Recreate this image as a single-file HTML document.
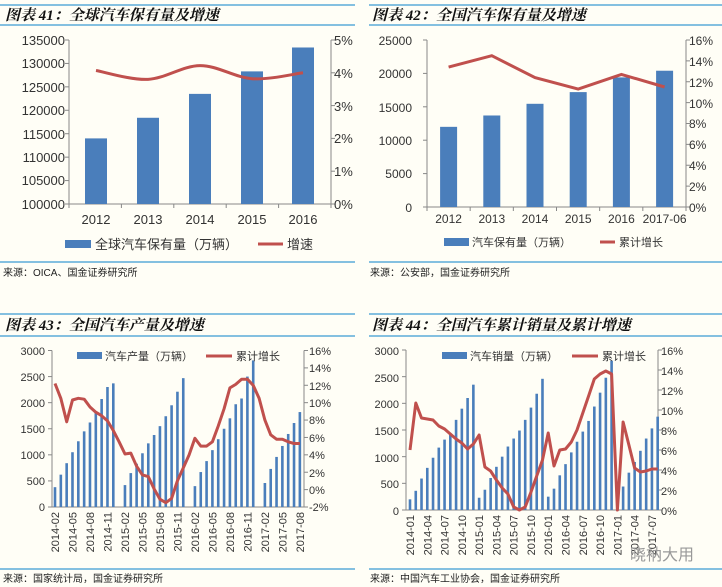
<!DOCTYPE html>
<html><head><meta charset="utf-8"><style>
html,body{margin:0;padding:0;background:#fffef6;}
svg{display:block;font-family:"Liberation Sans","Noto Sans CJK SC",sans-serif;}
.t{font-family:"Liberation Serif","Noto Serif CJK SC",serif;font-weight:bold;font-style:italic;font-size:15px;fill:#111;}
.s{font-size:10px;fill:#222;}
.a{fill:#333;}
</style></head><body>
<svg id="c" width="722" height="587" viewBox="0 0 722 587" xmlns="http://www.w3.org/2000/svg">
<rect width="722" height="587" fill="#fffef6"/>
<g stroke="#3a9ad4" stroke-width="1.3">
<line x1="0" y1="5" x2="355" y2="5"/><line x1="0" y1="25" x2="355" y2="25"/><line x1="0" y1="262" x2="355" y2="262"/>
<line x1="369" y1="5" x2="722" y2="5"/><line x1="369" y1="25" x2="722" y2="25"/><line x1="369" y1="262" x2="722" y2="262"/>
<line x1="0" y1="314" x2="355" y2="314"/><line x1="0" y1="336" x2="355" y2="336"/><line x1="0" y1="569" x2="355" y2="569"/>
<line x1="369" y1="314" x2="722" y2="314"/><line x1="369" y1="336" x2="722" y2="336"/><line x1="369" y1="569" x2="722" y2="569"/>
</g>
<text class="t" x="5" y="20">图表 41：全球汽车保有量及增速</text>
<text class="t" x="372" y="20">图表 42：全国汽车保有量及增速</text>
<text class="t" x="5" y="330">图表 43：全国汽车产量及增速</text>
<text class="t" x="372" y="330">图表 44：全国汽车累计销量及累计增速</text>
<text class="s" x="3" y="276">来源：OICA、国金证券研究所</text>
<text class="s" x="370" y="276">来源：公安部，国金证券研究所</text>
<text class="s" x="3" y="582">来源：国家统计局，国金证券研究所</text>
<text class="s" x="370" y="582">来源：中国汽车工业协会，国金证券研究所</text>
<g id="dyn"></g>

<!-- Panel 1 labels -->
<g class="a" font-size="13" text-anchor="end">
<text x="65" y="45">135000</text><text x="65" y="68">130000</text><text x="65" y="92">125000</text><text x="65" y="115">120000</text><text x="65" y="139">115000</text><text x="65" y="162">110000</text><text x="65" y="185">105000</text><text x="65" y="209">100000</text>
</g>
<g class="a" font-size="13">
<text x="334" y="45">5%</text><text x="334" y="78">4%</text><text x="334" y="111">3%</text><text x="334" y="143">2%</text><text x="334" y="176">1%</text><text x="334" y="209">0%</text>
</g>
<g class="a" font-size="13" text-anchor="middle">
<text x="96" y="224">2012</text><text x="148" y="224">2013</text><text x="200" y="224">2014</text><text x="252" y="224">2015</text><text x="303" y="224">2016</text>
</g>
<rect x="65" y="240" width="26" height="8" fill="#4a7ebb"/>
<text x="95" y="249" font-size="13" class="a">全球汽车保有量（万辆）</text>
<line x1="258" y1="244" x2="283" y2="244" stroke="#c0504d" stroke-width="3"/>
<text x="287" y="249" font-size="13" class="a">增速</text>

<!-- Panel 2 labels -->
<g class="a" font-size="12" text-anchor="end">
<text x="412" y="45">25000</text><text x="412" y="78">20000</text><text x="412" y="112">15000</text><text x="412" y="145">10000</text><text x="412" y="178">5000</text><text x="412" y="212">0</text>
</g>
<g class="a" font-size="12">
<text x="689" y="45">16%</text><text x="689" y="66">14%</text><text x="689" y="87">12%</text><text x="689" y="108">10%</text><text x="689" y="128">8%</text><text x="689" y="149">6%</text><text x="689" y="170">4%</text><text x="689" y="191">2%</text><text x="689" y="212">0%</text>
</g>
<g class="a" font-size="12" text-anchor="middle">
<text x="448.6" y="223">2012</text><text x="491.8" y="223">2013</text><text x="535" y="223">2014</text><text x="578.2" y="223">2015</text><text x="621.4" y="223">2016</text><text x="664.6" y="223">2017-06</text>
</g>
<rect x="444" y="238" width="25" height="8" fill="#4a7ebb"/>
<text x="472" y="246" font-size="11" class="a">汽车保有量（万辆）</text>
<line x1="600" y1="242" x2="615" y2="242" stroke="#c0504d" stroke-width="3"/>
<text x="619" y="246" font-size="11" class="a">累计增长</text>

<!-- Panel 3 labels -->
<g class="a" font-size="11" text-anchor="end">
<text x="45" y="355">3000</text><text x="45" y="381">2500</text><text x="45" y="407">2000</text><text x="45" y="433">1500</text><text x="45" y="459">1000</text><text x="45" y="485">500</text><text x="45" y="511">0</text>
</g>
<g class="a" font-size="11">
<text x="309" y="355">16%</text><text x="309" y="372">14%</text><text x="309" y="390">12%</text><text x="309" y="407">10%</text><text x="309" y="424">8%</text><text x="309" y="442">6%</text><text x="309" y="459">4%</text><text x="309" y="477">2%</text><text x="309" y="494">0%</text><text x="309" y="511">-2%</text>
</g>
<g class="a" font-size="11" text-anchor="end">
<text transform="translate(59,512) rotate(-90)">2014-02</text>
<text transform="translate(76.5,512) rotate(-90)">2014-05</text>
<text transform="translate(94,512) rotate(-90)">2014-08</text>
<text transform="translate(111.5,512) rotate(-90)">2014-11</text>
<text transform="translate(129,512) rotate(-90)">2015-02</text>
<text transform="translate(146.5,512) rotate(-90)">2015-05</text>
<text transform="translate(164,512) rotate(-90)">2015-08</text>
<text transform="translate(181.5,512) rotate(-90)">2015-11</text>
<text transform="translate(199,512) rotate(-90)">2016-02</text>
<text transform="translate(216.5,512) rotate(-90)">2016-05</text>
<text transform="translate(234,512) rotate(-90)">2016-08</text>
<text transform="translate(251.5,512) rotate(-90)">2016-11</text>
<text transform="translate(269,512) rotate(-90)">2017-02</text>
<text transform="translate(286.5,512) rotate(-90)">2017-05</text>
<text transform="translate(304,512) rotate(-90)">2017-08</text>
</g>
<rect x="77" y="352" width="25" height="7" fill="#4a7ebb"/>
<text x="105" y="360" font-size="11" class="a">汽车产量（万辆）</text>
<line x1="206" y1="356" x2="232" y2="356" stroke="#c0504d" stroke-width="3"/>
<text x="236" y="360" font-size="11" class="a">累计增长</text>

<!-- Panel 4 labels -->
<g class="a" font-size="11" text-anchor="end">
<text x="399" y="355">3000</text><text x="399" y="382">2500</text><text x="399" y="408">2000</text><text x="399" y="435">1500</text><text x="399" y="462">1000</text><text x="399" y="488">500</text><text x="399" y="515">0</text>
</g>
<g class="a" font-size="11">
<text x="661" y="355">16%</text><text x="661" y="375">14%</text><text x="661" y="395">12%</text><text x="661" y="415">10%</text><text x="661" y="435">8%</text><text x="661" y="455">6%</text><text x="661" y="475">4%</text><text x="661" y="495">2%</text><text x="661" y="515">0%</text>
</g>
<g class="a" font-size="11" text-anchor="end">
<text transform="translate(414,515) rotate(-90)">2014-01</text>
<text transform="translate(431.3,515) rotate(-90)">2014-04</text>
<text transform="translate(448.6,515) rotate(-90)">2014-07</text>
<text transform="translate(465.8,515) rotate(-90)">2014-10</text>
<text transform="translate(483.1,515) rotate(-90)">2015-01</text>
<text transform="translate(500.4,515) rotate(-90)">2015-04</text>
<text transform="translate(517.7,515) rotate(-90)">2015-07</text>
<text transform="translate(534.9,515) rotate(-90)">2015-10</text>
<text transform="translate(552.2,515) rotate(-90)">2016-01</text>
<text transform="translate(569.5,515) rotate(-90)">2016-04</text>
<text transform="translate(586.8,515) rotate(-90)">2016-07</text>
<text transform="translate(604,515) rotate(-90)">2016-10</text>
<text transform="translate(621.3,515) rotate(-90)">2017-01</text>
<text transform="translate(638.6,515) rotate(-90)">2017-04</text>
<text transform="translate(655.8,515) rotate(-90)">2017-07</text>
</g>
<rect x="442" y="352" width="25" height="7" fill="#4a7ebb"/>
<text x="470" y="360" font-size="11" class="a">汽车销量（万辆）</text>
<line x1="572" y1="356" x2="598" y2="356" stroke="#c0504d" stroke-width="3"/>
<text x="602" y="360" font-size="11" class="a">累计增长</text>
<text x="630" y="560" font-size="16" fill="#999">晓衲大用</text>
</svg>
<script>
var NS="http://www.w3.org/2000/svg",g=document.getElementById("dyn");
function el(n,a){var e=document.createElementNS(NS,n);for(var k in a)e.setAttribute(k,a[k]);g.appendChild(e);return e;}
function axes(l,r,t,b,ticksL,ticksR,xt){
 el("line",{x1:l,y1:t,x2:l,y2:b,stroke:"#888","stroke-width":1});
 el("line",{x1:r,y1:t,x2:r,y2:b,stroke:"#888","stroke-width":1});
 el("line",{x1:l,y1:b,x2:r,y2:b,stroke:"#888","stroke-width":1});
 ticksL.forEach(function(y){el("line",{x1:l-4,y1:y,x2:l,y2:y,stroke:"#888"});});
 ticksR.forEach(function(y){el("line",{x1:r,y1:y,x2:r+4,y2:y,stroke:"#888"});});
 xt.forEach(function(x){el("line",{x1:x,y1:b,x2:x,y2:b+4,stroke:"#888"});});
}
function range(a,b,n){var r=[];for(var i=0;i<n;i++)r.push(a+(b-a)*i/(n-1));return r;}
function bars(xs,vs,w,y0,k){xs.forEach(function(x,i){if(vs[i]==null)return;el("rect",{x:x-w/2,y:y0-vs[i]*k,width:w,height:vs[i]*k,fill:"#4a7ebb"});});}
function poly(pts){return "M"+pts.map(function(p){return p[0].toFixed(1)+","+p[1].toFixed(1)}).join("L");}
function smooth(p){var d="M"+p[0][0]+","+p[0][1];for(var i=0;i<p.length-1;i++){var p0=p[i-1]||p[i],p1=p[i],p2=p[i+1],p3=p[i+2]||p2;
 d+="C"+(p1[0]+(p2[0]-p0[0])/6)+","+(p1[1]+(p2[1]-p0[1])/6)+" "+(p2[0]-(p3[0]-p1[0])/6)+","+(p2[1]-(p3[1]-p1[1])/6)+" "+p2[0]+","+p2[1];}return d;}
// Panel 1
axes(69,331,40,204,range(40,204,8),range(40,204,6),range(69,331,6));
var x1=[96,148,200,252,303];
[114000,118400,123500,128300,133400].forEach(function(v,i){var y=204-(v-100000)/5000*23.43;el("rect",{x:x1[i]-11,y:y,width:22,height:204-y,fill:"#4a7ebb"});});
el("path",{d:smooth([4.07,3.8,4.22,3.82,4.0].map(function(v,i){return [x1[i],204-v*32.8];})),fill:"none",stroke:"#c0504d","stroke-width":3});
// Panel 2
axes(427,686,40,207,range(40,207,6),range(40,207,9),range(427,686,7));
var x2=[0,1,2,3,4,5].map(function(i){return 448.6+i*43.2;});
bars(x2,[12000,13700,15450,17200,19400,20400],17,207,167/25000);
el("path",{d:poly([13.4,14.5,12.4,11.3,12.7,11.5].map(function(v,i){return [x2[i],207-v*167/16];})),fill:"none",stroke:"#c0504d","stroke-width":3});
// Panel 3
axes(52,304,350.5,507,range(350.5,507,7),range(350.5,507,10),[]);
var x3=[];for(var i=0;i<43;i++)x3.push(55+i*5.83);
var b3=[380,620,840,1050,1260,1450,1620,1830,2070,2300,2370,null,
420,650,830,1030,1220,1380,1550,1740,1950,2210,2470,null,
400,670,880,1090,1300,1500,1700,1970,2080,2500,2810,null,
460,730,960,1170,1400,1610,1820];
bars(x3,b3,2.6,507,156.5/3000);
var l3=[12.7,11,8.3,10.8,11,10.9,10,9.4,9,8.4,7.3,6,4.6,4.7,3.2,2.2,2,0.6,-0.6,-1,-0.5,1.5,3,4.5,6.4,5.5,5.5,6,7.8,9.8,12.2,12.6,13.2,13.2,12.5,11,8.5,6.8,6.3,6.3,6,5.8,5.8];
el("path",{d:poly(l3.map(function(v,i){return [x3[i],494-v*8.7];})),fill:"none",stroke:"#c0504d","stroke-width":3,"stroke-linejoin":"round"});
// Panel 4
axes(406,658,350,510,range(350,510,7),range(350,510,9),[]);
var x4=[];for(var i=0;i<44;i++)x4.push(410+i*5.76);
var b4=[200,360,590,790,980,1170,1320,1440,1690,1900,2100,2350,
230,380,600,810,1000,1190,1340,1490,1690,1920,2180,2460,
250,400,650,860,1080,1280,1470,1670,1940,2200,2480,2800,
null,440,700,900,1110,1340,1530,1750];
bars(x4,b4,2.6,510,160/3000);
var l4=[6,10.7,9.2,9.1,9.0,8.4,8.1,7.6,7.1,6.7,6.1,6.6,7.5,4.3,3.9,3.0,2.2,1.6,0.3,0,0.3,1.8,3.4,5.0,7.7,4.4,6.0,6.1,6.8,8.0,9.7,11.4,13.1,13.6,13.9,13.6,0,8.8,6.5,4.2,3.8,3.9,4.1,4.1];
el("path",{d:poly(l4.map(function(v,i){return [x4[i],510-v*10];})),fill:"none",stroke:"#c0504d","stroke-width":3,"stroke-linejoin":"round"});
</script>
</body></html>
